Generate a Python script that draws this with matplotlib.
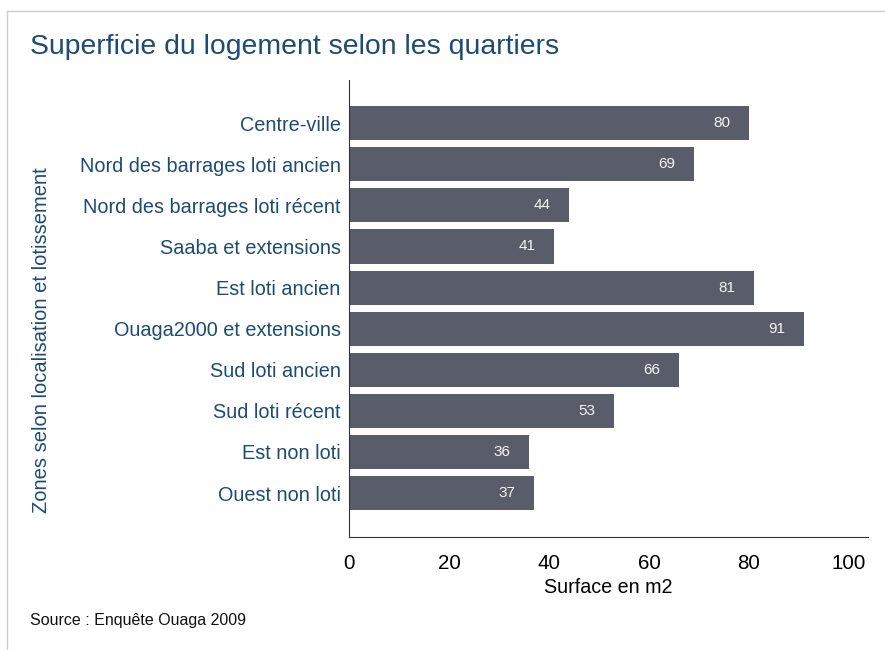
import matplotlib
matplotlib.use("Agg")
import matplotlib.pyplot as plt
from matplotlib.lines import Line2D

plt.rcParams['font.family'] = ['Liberation Sans', 'DejaVu Sans']

# donnees
zones = ['Centre-ville', 'Nord des barrages loti ancien', 'Nord des barrages loti récent',
         'Saaba et extensions', 'Est loti ancien', 'Ouaga2000 et extensions',
         'Sud loti ancien', 'Sud loti récent', 'Est non loti', 'Ouest non loti']
surfaces = [80, 69, 44, 41, 81, 91, 66, 53, 36, 37]
ticks_x = [0, 20, 40, 60, 80, 100]

bleu = '#1d4b73'
gris_barre = '#595d6a'

fig = plt.figure(figsize=(8.85, 6.5), dpi=100)
ax = fig.add_axes([0.3944, 0.1738, 0.5864, 0.7031])

pos = list(range(len(zones)))
ax.barh(pos, surfaces, height=0.83, color=gris_barre)
for p, v in zip(pos, surfaces):
    ax.annotate(str(v), xy=(v, p), xytext=(-19.5, 0), textcoords='offset points',
                ha='center', va='center', color='#f4f4f4', fontsize=11)

ax.set_ylim(len(zones) - 1 + 1.07, -1.05)
ax.set_xlim(0, 103.8)
ax.set_yticks(pos)
ax.set_yticklabels(zones, color=bleu, fontsize=14.3)
ax.set_xticks(ticks_x)
ax.set_xticklabels([str(t) for t in ticks_x], fontsize=14.8)
ax.tick_params(axis='y', length=0, pad=6)
ax.tick_params(axis='x', length=0, pad=12)
ax.spines['top'].set_visible(False)
ax.spines['right'].set_visible(False)
ax.spines['left'].set_color('#333333')
ax.spines['bottom'].set_color('#333333')
ax.spines['left'].set_linewidth(0.8)
ax.spines['bottom'].set_linewidth(0.8)
ax.set_xlabel('Surface en m2', fontsize=14.2, labelpad=4)

fig.text(42 / 885, 1 - 340 / 650, 'Zones selon localisation et lotissement', rotation=90,
         ha='center', va='center', color=bleu, fontsize=14.5)
fig.text(30 / 885, 1 - 47 / 650, 'Superficie du logement selon les quartiers',
         ha='left', va='center', color=bleu, fontsize=20.4)
fig.text(30 / 885, 1 - 620 / 650, 'Source : Enquête Ouaga 2009',
         ha='left', va='center', color='#111111', fontsize=11.5)

# cadre gris clair en haut et a gauche
fig.add_artist(Line2D([7 / 885, 1], [1 - 11 / 650, 1 - 11 / 650], color='#cccccc', lw=1))
fig.add_artist(Line2D([7 / 885, 7 / 885], [0, 1 - 11 / 650], color='#cccccc', lw=1))

fig.savefig('out.png', dpi=100)
